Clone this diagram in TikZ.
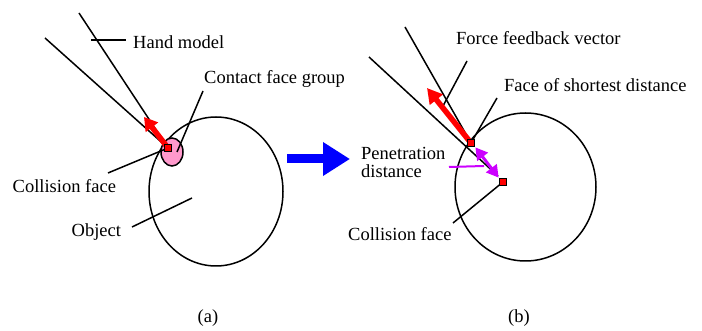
\documentclass[tikz,border=0pt]{standalone}
\usepackage{fontspec}
\setmainfont{Liberation Serif}
\usetikzlibrary{arrows.meta}
\definecolor{facered}{RGB}{255,0,0}
\definecolor{pinkgrp}{RGB}{255,153,204}
\definecolor{magv}{RGB}{204,0,255}
\definecolor{bigblue}{RGB}{0,0,255}
\tikzset{
  ln/.style={line width=1.5pt, black},
  lbl/.style={anchor=base west, inner sep=0pt, font=\fontsize{18.5}{20}\selectfont},
  facebox/.style={draw=black, line width=1.2pt, fill=facered, minimum size=7.5pt, inner sep=0pt},
  redvec/.style={draw=facered, line width=5.5pt, -{Triangle[width=15pt,length=13pt]}},
  pendist/.style={draw=magv, line width=3pt, {Triangle[width=13pt,length=12pt]}-{Triangle[width=13pt,length=12pt]}},
}
\begin{document}
\begin{tikzpicture}[x=1pt,y=-1pt]
\useasboundingbox (0,0) rectangle (702,331);
% ---------- panel (a) ----------
\draw[ln] (216,191.5) ellipse [x radius=67, y radius=74.5];
\draw[ln, fill=pinkgrp] (172,152) ellipse [x radius=11, y radius=14];
\coordinate (ca) at (168,148);
\coordinate (ha1) at (79,13);
\coordinate (ha2) at (45,38);
\draw[ln] (ha1) -- (ca);
\draw[ln] (ha2) -- (ca);
\coordinate (hmA) at (91,40); \coordinate (hmB) at (126,40);
\draw[ln] (hmA) -- (hmB);
\coordinate (cgA) at (203,91); \coordinate (cgB) at (177,152);
\draw[ln] (cgA) -- (cgB);
\coordinate (cfA) at (108,173);
\draw[ln] (cfA) -- (ca);
\coordinate (obA) at (132,227); \coordinate (obB) at (192,198);
\draw[ln] (obA) -- (obB);
\coordinate (rvA) at (144,117);
\draw[redvec] (ca) -- (rvA);
\node[facebox, minimum size=7pt] (can) at (ca) {};
\node[lbl] (thm) at (133,49) {Hand model};
\node[lbl] (tcg) at (204,84) {Contact face group};
\node[lbl] (tcf) at (12.5,193) {Collision face};
\node[lbl] (tob) at (71.5,237) {Object};
% ---------- arrow between panels ----------
\coordinate (bA) at (287,159); \coordinate (bB) at (350,159);
\draw[bigblue, line width=9pt, -{Triangle[width=32pt,length=27pt]}] (bA) -- (bB);
% ---------- panel (b) ----------
\draw[ln] (525.5,187) ellipse [x radius=70.5, y radius=74];
\coordinate (sd) at (471,143);
\coordinate (cb) at (503,182);
\coordinate (hb1) at (405,27);
\coordinate (hb2) at (369,57);
\coordinate (hb2e) at (498,176);
\draw[ln] (hb1) -- (sd);
\draw[ln] (hb2) -- (hb2e);
\coordinate (ffA) at (467,61); \coordinate (ffB) at (443,106);
\draw[ln] (ffA) -- (ffB);
\coordinate (fsA) at (497,98);
\draw[ln] (fsA) -- (sd);
\coordinate (cbA) at (453,223);
\draw[ln] (cbA) -- (cb);
\coordinate (rvB) at (427,88);
\draw[redvec, -{Triangle[width=16pt,length=15pt]}] (sd) -- (rvB);
\node[facebox] (sdn) at (sd) {};
\node[facebox] (cbn) at (cb) {};
\draw[pendist] (sdn.south east) -- (cbn.north west);
\coordinate (pdA) at (449,167); \coordinate (pdB) at (484,166);
\draw[magv, line width=2pt] (pdA) -- (pdB);
\node[lbl] (tff) at (456,45) {Force feedback vector};
\node[lbl] (tfs) at (504,92) {Face of shortest distance};
\node[lbl] (tpd1) at (361,160) {Penetration};
\node[lbl] (tpd2) at (361,178) {distance};
\node[lbl] (tcb) at (348,241) {Collision face};
% ---------- captions ----------
\node[lbl] (capa) at (197.5,323) {(a)};
\node[lbl] (capb) at (508,323) {(b)};
\end{tikzpicture}
\end{document}
